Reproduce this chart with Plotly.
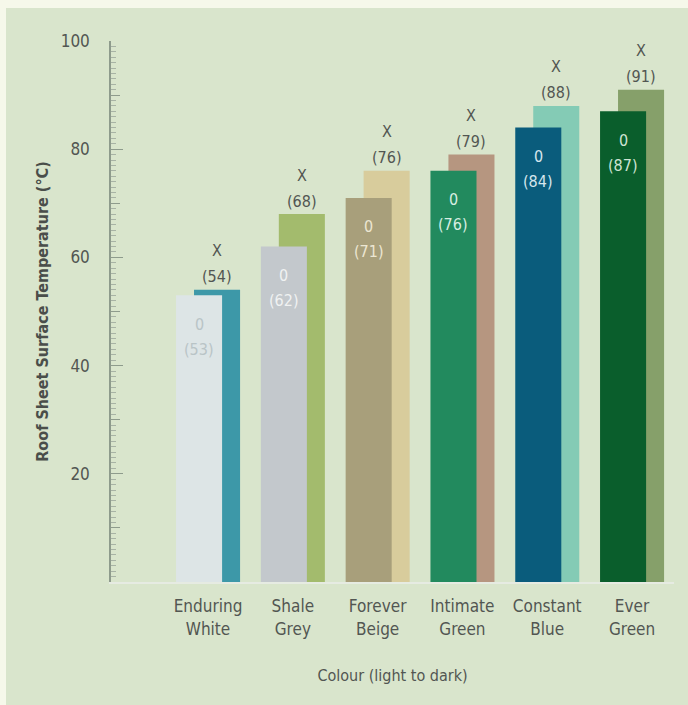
import plotly.graph_objects as go

categories = ["Enduring White", "Shale Grey", "Forever Beige", "Intimate Green", "Constant Blue", "Ever Green"]
o_values = [53, 62, 71, 76, 84, 87]
x_values = [54, 68, 76, 79, 88, 91]
o_colors = ["#dde5e6", "#c3c8cc", "#a89f7b", "#228a5e", "#0a5c7c", "#0a5e2c"]
x_colors = ["#3d98a8", "#a3bb6d", "#d8cc9c", "#b69680", "#84cbb5", "#86a06a"]
o_text_colors = ["#b9c4c6", "#f0f2f2", "#ece6d2", "#d8eee2", "#d6e6ee", "#cfe4d4"]
tick_labels = [c.replace(" ", "<br>") for c in categories]

FONT = "Liberation Sans Narrow, Arial Narrow, DejaVu Sans Condensed, sans-serif"
TXT = "#525652"

fig = go.Figure()
fig.add_trace(go.Bar(x=categories, y=x_values, marker=dict(color=x_colors, line=dict(width=0)),
                     offset=-0.165, width=0.543, name="X", hoverinfo="y"))
fig.add_trace(go.Bar(x=categories, y=o_values, marker=dict(color=o_colors, line=dict(width=0)),
                     offset=-0.377, width=0.543, name="0", hoverinfo="y"))
# invisible trace for overlay axis carrying the medium (every 10) ticks
fig.add_trace(go.Scatter(x=[categories[0]], y=[0], yaxis="y2", mode="markers",
                         marker=dict(opacity=0), showlegend=False, hoverinfo="skip"))

ann = []
for c, ov, xv, tc in zip(categories, o_values, x_values, o_text_colors):
    ann.append(dict(x=c, y=xv, text=f"({xv})", showarrow=False, xshift=9, yshift=13,
                    yanchor="middle", font=dict(size=16, color=TXT, family=FONT)))
    ann.append(dict(x=c, y=xv, text="X", showarrow=False, xshift=9, yshift=39,
                    yanchor="middle", font=dict(size=16, color=TXT, family=FONT)))
    ann.append(dict(x=c, y=ov, text="0", showarrow=False, xshift=-9, yshift=-29,
                    yanchor="middle", font=dict(size=16, color=tc, family=FONT)))
    ann.append(dict(x=c, y=ov, text=f"({ov})", showarrow=False, xshift=-9, yshift=-54,
                    yanchor="middle", font=dict(size=16, color=tc, family=FONT)))

fig.update_layout(
    width=688, height=705,
    barmode="overlay",
    showlegend=False,
    paper_bgcolor="#d9e5cc",
    plot_bgcolor="#d9e5cc",
    margin=dict(l=111, r=14, t=41, b=123),
    font=dict(family=FONT, color=TXT, size=16),
    annotations=ann,
    xaxis=dict(
        type="category", range=[-1.144, 5.495],
        tickvals=categories, ticktext=tick_labels,
        tickfont=dict(size=17, color=TXT, family=FONT),
        showgrid=False, zeroline=False,
        showline=True, linecolor="#e6ebe2", linewidth=2,
        ticks="", ticklabelstandoff=8,
        title=dict(text="Colour (light to dark)", standoff=32,
                   font=dict(size=16, color=TXT, family=FONT)),
        fixedrange=True,
    ),
    yaxis=dict(
        range=[0, 100],
        showgrid=False, zeroline=False,
        showline=True, linecolor="#8e9b8c", linewidth=1.5,
        ticks="inside", ticklen=12, tickcolor="#8e9b8c", tickwidth=1,
        minor=dict(dtick=1, tick0=0, ticks="inside", ticklen=5, tickcolor="#a8b3a5", tickwidth=1),
        tickfont=dict(size=17, color=TXT, family=FONT),
        ticklabelstandoff=16,
        tickvals=[20, 40, 60, 80, 100],
        title=dict(text="<b>Roof Sheet Surface Temperature (°C)</b>", standoff=8,
                   font=dict(size=16, color="#4a4e4a", family=FONT)),
        fixedrange=True,
    ),
    yaxis2=dict(
        overlaying="y", side="left", range=[0, 100], dtick=10, tick0=0,
        showgrid=False, zeroline=False, showline=False,
        ticks="inside", ticklen=9, tickcolor="#8e9b8c", tickwidth=1,
        showticklabels=False, fixedrange=True,
    ),
)

# light cream frame strips along the top and left edges of the picture
fig.add_shape(type="rect", xref="paper", yref="paper",
              x0=-111/563, x1=(688-111)/563, y0=1 + 33/541, y1=1 + 41/541,
              fillcolor="#f6f8ea", line=dict(width=0), layer="below")
fig.add_shape(type="rect", xref="paper", yref="paper",
              x0=-111/563, x1=-105/563, y0=-123/541, y1=1 + 41/541,
              fillcolor="#f6f8ea", line=dict(width=0), layer="below")

fig.write_html(
    "out.html",
    config={"displayModeBar": False},
    post_script="document.body.style.margin='0';document.body.style.background='#d9e5cc';",
)
